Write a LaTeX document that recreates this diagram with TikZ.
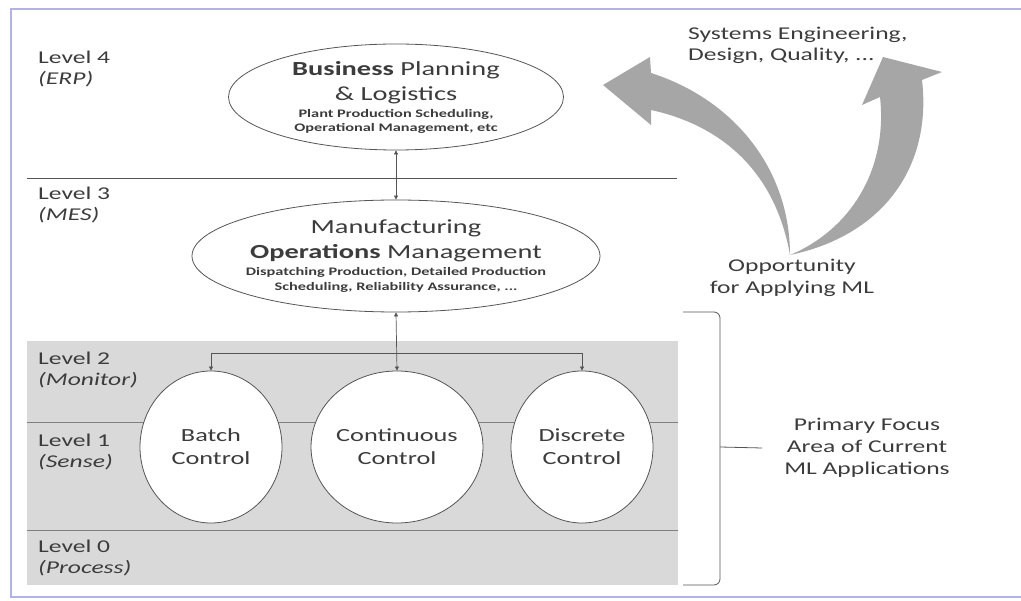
\documentclass[tikz,border=0pt]{standalone}
\usepackage{fontspec}
\setmainfont[FakeStretch=1.42]{Carlito}
\usepackage{xcolor}
\usepackage{tikz}
\definecolor{frameblue}{RGB}{178,178,228}
\definecolor{bandgray}{RGB}{217,217,217}
\definecolor{arrowgray}{RGB}{166,166,166}
\definecolor{linegray}{RGB}{85,85,85}
\definecolor{textgray}{RGB}{60,60,60}
\usetikzlibrary{shapes.geometric,arrows.meta}
\newcommand\detailfont{\fontsize{11.5}{15}\selectfont\bfseries}

\begin{document}
\begin{tikzpicture}[x=1pt,y=-1pt,
    lvl/.style={anchor=north west,align=left,inner sep=0pt,text=textgray,font=\fontsize{18}{21}\selectfont},
    bubble/.style={ellipse,draw=linegray,fill=white,line width=0.8pt,align=center,inner sep=0pt,text=textgray,font=\fontsize{20}{25}\selectfont},
    ctrl/.style={bubble,minimum width=142pt,minimum height=152pt,font=\fontsize{18.5}{23}\selectfont},
    note/.style={align=center,inner sep=0pt,text=textgray,font=\fontsize{18}{22}\selectfont},
    link/.style={draw=linegray,line width=0.7pt,-{Triangle[length=4pt,width=4pt]}},
    twoway/.style={link,{Triangle[length=4pt,width=4pt]}-{Triangle[length=4pt,width=4pt]}}]
    \useasboundingbox (0,0) rectangle (1021,601);
    % Frame
    \draw[frameblue, line width=2.5pt] (1021,9) -- (11,9) -- (11,597) -- (1021,597);
    % Shaded levels 0 to 2
    \fill[bandgray] (27,341) rectangle (678,585);
    \draw[gray, line width=0.8pt] (27,422) -- (678,422);
    \draw[gray, line width=0.8pt] (27,530) -- (678,530);
    \draw[linegray, line width=0.9pt] (27,178) -- (677,178);
    % Level labels
    \node[lvl] (l4) at (38,51) {Level 4\\\textit{(ERP)}};
    \node[lvl] (l3) at (38,187) {Level 3\\\textit{(MES)}};
    \node[lvl] (l2) at (38,352) {Level 2\\\textit{(Monitor)}};
    \node[lvl] (l1) at (38,434) {Level 1\\\textit{(Sense)}};
    \node[lvl] (l0) at (38,540) {Level 0\\\textit{(Process)}};
    % Ellipses
    \node[bubble, minimum width=335pt, minimum height=106pt] (bpl) at (396,97)
        {{\bfseries Business} Planning\\\& Logistics\\[-8pt]{\detailfont Plant Production Scheduling,}\\[-11pt]{\detailfont Operational Management, etc}};
    \node[bubble, minimum width=408pt, minimum height=112pt, inner xsep=-18pt] (mom) at (396,256)
        {Manufacturing\\{\bfseries Operations} Management\\[-8pt]{\detailfont Dispatching Production, Detailed Production}\\[-10pt]{\detailfont Scheduling, Reliability Assurance, ...}};
    \node[ctrl] (batch) at (211,447) {Batch\\Control};
    \node[ctrl] (cont) at (397,447) {Continuous\\Control};
    \node[ctrl] (disc) at (582,447) {Discrete\\Control};
    % Connectors
    \coordinate (hub) at (397,353);
    \draw[twoway] (bpl.south) -- (mom.north);
    \draw[twoway] (mom.south) -- (cont.north);
    \draw[link] (hub) -| (batch.north);
    \draw[link] (hub) -| (disc.north);
    % Opportunity arrows
    \fill[arrowgray] (790,255) .. controls (790,170) and (735,100) .. (651,73) -- (650,57) -- (603,85)
        -- (651,125) -- (651,110) .. controls (720,125) and (775,170) .. (790,255) -- cycle;
    \fill[arrowgray] (790,255) .. controls (885,235) and (932,165) .. (922,80) -- (942,72) -- (883,57)
        -- (862,105) -- (880,97) .. controls (888,170) and (850,230) .. (790,255) -- cycle;
    \node[note] (opp) at (792,278) {Opportunity\\for Applying ML};
    \node[lvl] (sys) at (688,27) {Systems Engineering,\\Design, Quality, ...};
    % Brace
    \coordinate (bracetip) at (720,447);
    \node[note] (focus) at (867,448) {Primary Focus\\Area of Current\\ML Applications};
    \draw[linegray, line width=0.8pt, rounded corners=6pt] (683,312) -- (720,312) -- (bracetip);
    \draw[linegray, line width=0.8pt, rounded corners=6pt] (683,585) -- (720,585) -- (bracetip);
    \draw[linegray, line width=0.8pt] (bracetip) -- ([xshift=-22pt]focus.west);
\end{tikzpicture}
\end{document}
